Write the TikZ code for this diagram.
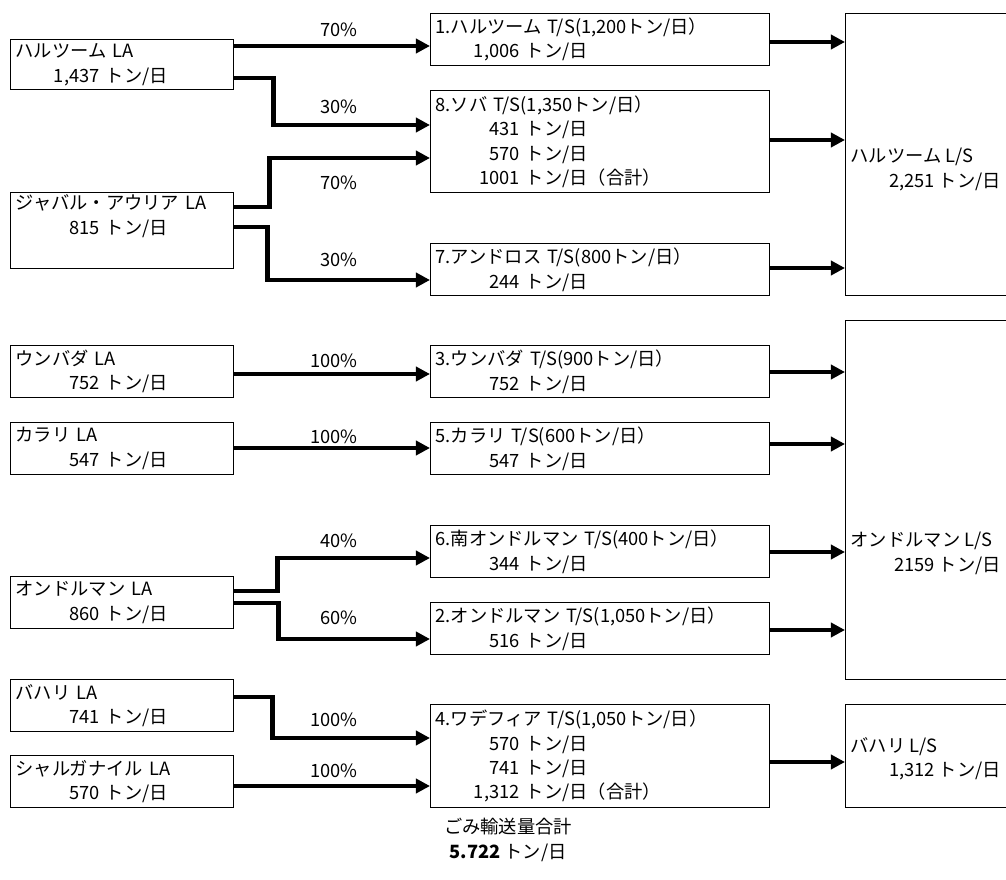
\documentclass[tikz,border=0pt]{standalone}
\usepackage{fontspec}
\setmainfont{Noto Sans CJK JP}
\usetikzlibrary{positioning, arrows.meta}

% amount in t/day, numbers set flush right
\newcommand{\tonday}[1]{\makebox[2.1cm][r]{#1} トン/日}

\begin{document}
\begin{tikzpicture}[x=0.025cm, y=-0.025cm, line width=0.9pt,
    font=\fontsize{13}{17.4}\selectfont,
    >={Triangle[length=10pt, width=10pt]},
    box/.style={draw, anchor=north west, inner xsep=0.125cm, inner ysep=0pt, align=left},
    labox/.style={box, minimum width=5.575cm, text width=5.325cm, minimum height=1.3cm},
    tsbox/.style={box, minimum width=8.475cm, text width=8.225cm, minimum height=1.3cm},
    lsbox/.style={box, minimum width=4.5cm},
    lstext/.style={anchor=west, align=left, inner xsep=0.125cm},
    flow/.style={->, line width=3.2pt},
    pct/.style={anchor=east}]
  \useasboundingbox (0,0) rectangle (1006,880);
  \clip (0,0) rectangle (1006,880);

  % LA (collection areas)
  \node[labox, minimum height=1.25cm] (hla) at (10,39) {ハルツーム LA\\\tonday{1,437}};
  \node[labox, minimum height=1.9cm] (jla) at (10,192) {ジャバル・アウリア LA\\\tonday{815}\\\strut};
  \node[labox] (ula) at (10,345) {ウンバダ LA\\\tonday{752}};
  \node[labox] (kla) at (10,422) {カラリ LA\\\tonday{547}};
  \node[labox] (ola) at (10,576) {オンドルマン LA\\\tonday{860}};
  \node[labox] (bla) at (10,679) {バハリ LA\\\tonday{741}};
  \node[labox] (sla) at (10,755) {シャルガナイル LA\\\tonday{570}};

  % transfer stations
  \node[tsbox] (ts1) at (430,13) {1.ハルツーム T/S(1,200トン/日）\\\tonday{1,006}};
  \node[tsbox, minimum height=2.55cm] (ts8) at (430,90)
    {8.ソバ T/S(1,350トン/日）\\\tonday{431}\\\tonday{570}\\\tonday{1001}（合計）};
  \node[tsbox] (ts7) at (430,243) {7.アンドロス T/S(800トン/日）\\\tonday{244}};
  \node[tsbox] (ts3) at (430,345) {3.ウンバダ T/S(900トン/日）\\\tonday{752}};
  \node[tsbox] (ts5) at (430,422) {5.カラリ T/S(600トン/日）\\\tonday{547}};
  \node[tsbox] (ts6) at (430,525) {6.南オンドルマン T/S(400トン/日）\\\tonday{344}};
  \node[tsbox] (ts2) at (430,602) {2.オンドルマン T/S(1,050トン/日）\\\tonday{516}};
  \node[tsbox, minimum height=2.575cm] (ts4) at (430,704)
    {4.ワデフィア T/S(1,050トン/日）\\\tonday{570}\\\tonday{741}\\\tonday{1,312}（合計）};

  % landfill sites
  \node[lsbox, minimum height=7.05cm] (hls) at (845,13) {};
  \node[lsbox, minimum height=8.975cm] (ols) at (845,320) {};
  \node[lsbox, minimum height=2.575cm] (bls) at (845,704) {};
  \node[lstext] (hlstxt) at (845,169.5) {ハルツーム L/S\\\tonday{2,251}};
  \node[lstext] (olstxt) at (845,553.5) {オンドルマン L/S\\\tonday{2159}};
  \node[lstext] (blstxt) at (845,759) {バハリ L/S\\\tonday{1,312}};

  % LA -> T/S
  \draw[flow] (hla.east |- 0,46) -- (ts1.west |- 0,46);
  \draw[flow] (hla.east |- 0,78) -- ++(39,0) |- (ts8.west |- 0,125);
  \draw[flow] (jla.east |- 0,207) -- ++(35,0) |- (ts8.west |- 0,158);
  \draw[flow] (jla.east |- 0,227) -- ++(33,0) |- (ts7.west |- 0,280);
  \draw[flow] (ula.east |- 0,374) -- (ts3.west |- 0,374);
  \draw[flow] (kla.east |- 0,448) -- (ts5.west |- 0,448);
  \draw[flow] (ola.east |- 0,591) -- ++(43,0) |- (ts6.west |- 0,558);
  \draw[flow] (ola.east |- 0,603) -- ++(44,0) |- (ts2.west |- 0,639);
  \draw[flow] (bla.east |- 0,697) -- ++(38,0) |- (ts4.west |- 0,738);
  \draw[flow] (sla.east |- 0,786) -- (ts4.west |- 0,786);

  % shares
  \node[pct] (p1) at (363,30) {70\%};
  \node[pct] (p2) at (363,107) {30\%};
  \node[pct] (p3) at (363,183) {70\%};
  \node[pct] (p4) at (363,260) {30\%};
  \node[pct] (p5) at (363,361) {100\%};
  \node[pct] (p6) at (363,437) {100\%};
  \node[pct] (p7) at (363,541) {40\%};
  \node[pct] (p8) at (363,618) {60\%};
  \node[pct] (p9) at (363,720) {100\%};
  \node[pct] (p10) at (363,771) {100\%};

  % T/S -> L/S
  \draw[flow] (ts1.east |- 0,42) -- (hls.west |- 0,42);
  \draw[flow] (ts8.east |- 0,140) -- (hls.west |- 0,140);
  \draw[flow] (ts7.east |- 0,268) -- (hls.west |- 0,268);
  \draw[flow] (ts3.east |- 0,372) -- (ols.west |- 0,372);
  \draw[flow] (ts5.east |- 0,444) -- (ols.west |- 0,444);
  \draw[flow] (ts6.east |- 0,552) -- (ols.west |- 0,552);
  \draw[flow] (ts2.east |- 0,630) -- (ols.west |- 0,630);
  \draw[flow] (ts4.east |- 0,762) -- (bls.west |- 0,762);

  % total
  \node[align=center] (total) at (508,840) {ごみ輸送量合計\\\textbf{5.722} トン/日};
\end{tikzpicture}
\end{document}
